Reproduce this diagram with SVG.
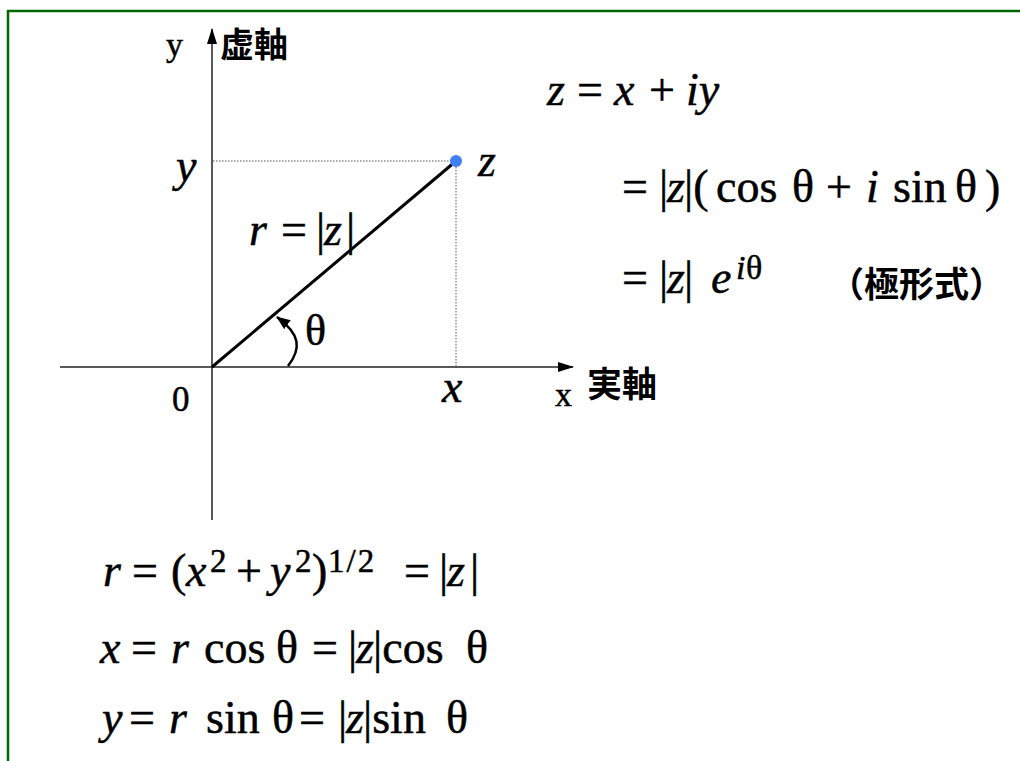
<svg xmlns="http://www.w3.org/2000/svg" width="1020" height="761" viewBox="0 0 1020 761">
<style>
.m{font-family:"Liberation Serif","Times New Roman",serif;fill:#000;stroke:#000;stroke-width:0.5}
.i{font-style:italic}
.cjk{font-family:"Noto Sans CJK JP",sans-serif;font-weight:bold;fill:#000}
.axis{stroke:#222;stroke-width:1.5;fill:none}
.dot{stroke:#555;stroke-width:1;stroke-dasharray:1.5 1.5;fill:none}
</style>
<defs>
<marker id="ah" viewBox="0 0 14 11" refX="13" refY="5.5" markerWidth="14" markerHeight="11" markerUnits="userSpaceOnUse" orient="auto">
<path d="M0,0 L14,5.5 L0,11 Z" fill="#000"/>
</marker>
<marker id="ahL" viewBox="0 0 16 10" refX="15" refY="5" markerWidth="16" markerHeight="10" markerUnits="userSpaceOnUse" orient="auto">
<path d="M0,0 L16,5 L0,10 Z" fill="#000"/>
</marker>
</defs>
<rect width="1020" height="761" fill="#fff"/>
<rect x="8" y="11" width="1030" height="780" fill="none" stroke="#006600" stroke-width="2.5"/>

<g id="connectors">
<line class="dot" x1="213" y1="161" x2="456" y2="161"/>
<line class="dot" x1="456" y1="161" x2="456" y2="366"/>
<line class="axis" x1="212" y1="520" x2="212" y2="29" marker-end="url(#ahL)"/>
<line class="axis" x1="60" y1="367" x2="573" y2="367" marker-end="url(#ahL)"/>
<line x1="212" y1="367" x2="456" y2="161" stroke="#000" stroke-width="3"/>
<path d="M288,366 C302,348 300,334 277,317" fill="none" stroke="#000" stroke-width="2.5" marker-end="url(#ah)"/>
</g>

<g id="point-z"><circle cx="456" cy="161" r="6" fill="#3f7ef5"/></g>

<g id="axis-labels">
<text class="m" x="166" y="56" font-size="34" stroke-width="0.2">y</text>
<text class="cjk" x="220" y="57" font-size="34">虚軸</text>
<text class="m" x="555" y="406" font-size="34" stroke-width="0.2">x</text>
<text class="cjk" x="587" y="397" font-size="35">実軸</text>
<text class="m" x="172" y="411" font-size="35" stroke-width="0.2">0</text>
</g>

<g id="point-labels">
<text class="m i" x="176" y="181" font-size="46">y</text>
<text class="m i" x="478" y="176" font-size="46">z</text>
<text class="m i" x="442" y="402" font-size="46">x</text>
<text class="m" x="305" y="345" font-size="44">θ</text>
<text class="m" y="245" font-size="46"><tspan class="i" x="249">r</tspan><tspan x="281">=</tspan><tspan x="316">|</tspan><tspan class="i" x="324">z</tspan><tspan x="346">|</tspan></text>
</g>

<g id="polar-form">
<text class="m" y="105" font-size="46"><tspan class="i" x="547">z</tspan><tspan x="577">=</tspan><tspan class="i" x="614">x</tspan><tspan x="649">+</tspan><tspan class="i" x="686">iy</tspan></text>
<text class="m" y="202" font-size="46"><tspan x="622">=</tspan><tspan x="659">|</tspan><tspan class="i" x="667">z</tspan><tspan x="684">|(</tspan><tspan x="716">cos</tspan><tspan x="792">θ</tspan><tspan x="826">+</tspan><tspan class="i" x="866">i</tspan><tspan x="893">sin</tspan><tspan x="955">θ</tspan><tspan x="985">)</tspan></text>
<text class="m" y="293" font-size="46"><tspan x="622">=</tspan><tspan x="659">|</tspan><tspan class="i" x="667">z</tspan><tspan x="684">|</tspan><tspan class="i" x="711">e</tspan></text>
<text class="m" y="279" font-size="34"><tspan class="i" x="736">i</tspan><tspan x="746">θ</tspan></text>
<text class="cjk" x="829" y="297" font-size="35">（極形式）</text>
</g>

<g id="relations">
<text class="m" y="586" font-size="46"><tspan class="i" x="103">r</tspan><tspan x="132">=</tspan><tspan x="171">(</tspan><tspan class="i" x="186">x</tspan><tspan x="236">+</tspan><tspan class="i" x="270">y</tspan><tspan x="312">)</tspan><tspan x="404">=</tspan><tspan x="439">|</tspan><tspan class="i" x="447">z</tspan><tspan x="470">|</tspan></text>
<text class="m" y="572" font-size="33"><tspan x="210">2</tspan><tspan x="295">2</tspan><tspan x="328" letter-spacing="2">1/2</tspan></text>
<text class="m" y="663" font-size="46"><tspan class="i" x="100">x</tspan><tspan x="131">=</tspan><tspan class="i" x="171">r</tspan><tspan x="204">cos</tspan><tspan x="276">θ</tspan><tspan x="312">=</tspan><tspan x="348">|</tspan><tspan class="i" x="356">z</tspan><tspan x="373">|cos</tspan><tspan x="466">θ</tspan></text>
<text class="m" y="733" font-size="46"><tspan class="i" x="102">y</tspan><tspan x="129">=</tspan><tspan class="i" x="169">r</tspan><tspan x="206">sin</tspan><tspan x="272">θ</tspan><tspan x="299">=</tspan><tspan x="338">|</tspan><tspan class="i" x="346">z</tspan><tspan x="363">|sin</tspan><tspan x="446">θ</tspan></text>
</g>
</svg>
